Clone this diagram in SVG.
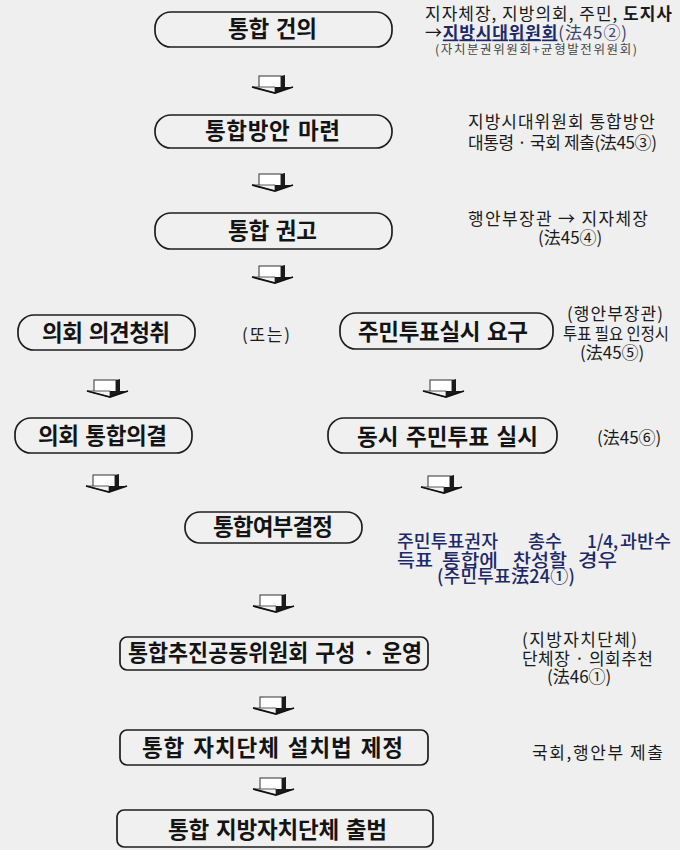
<svg xmlns="http://www.w3.org/2000/svg" xmlns:xlink="http://www.w3.org/1999/xlink" width="680" height="850" viewBox="0 0 680 850">
<style>
.box{fill:#f0f0f0;stroke:#1e1e1e;stroke-width:1.7}
.bt{font-family:"Noto Sans CJK KR","Noto Sans",sans-serif;font-weight:700;font-size:22.5px;fill:#141414;text-anchor:middle;word-spacing:2px}
.an{font-family:"Noto Sans CJK KR","Noto Sans",sans-serif;font-size:17px;fill:#1a1a1a}
.sm{font-family:"Noto Sans CJK KR","Noto Sans",sans-serif;font-size:12.5px;fill:#444}
.bl{font-family:"Noto Sans CJK KR","Noto Sans",sans-serif;font-size:18px;font-weight:500;fill:#1c2868}
.nv{fill:#1c2868}
</style>
<defs>
<g id="arr">
<rect x="-14" y="0" width="22" height="13" fill="#ffffff" stroke="#333" stroke-width="1"/>
<polygon points="8,0 12,-1 12,12 8,13" fill="#1a1a1a"/>
<polygon points="-21,11 2,11 2,17" fill="#f4f4f4" stroke="#333" stroke-width="0.8"/>
<polygon points="2,11 20,11 2,17" fill="#1a1a1a"/>
<polyline points="-21,11 2,17 20,11" fill="none" stroke="#111" stroke-width="1.8"/>
</g>
</defs>
<rect x="0" y="0" width="680" height="850" fill="#efefef"/>

<g id="connectors">
<use xlink:href="#arr" x="273" y="76"/>
<use xlink:href="#arr" x="273" y="174"/>
<use xlink:href="#arr" x="273" y="266"/>
<use xlink:href="#arr" x="108" y="380"/>
<use xlink:href="#arr" x="444" y="380"/>
<use xlink:href="#arr" x="107" y="475"/>
<use xlink:href="#arr" x="442" y="476"/>
<use xlink:href="#arr" x="274" y="595"/>
<use xlink:href="#arr" x="274" y="697"/>
<use xlink:href="#arr" x="274" y="778"/>
</g>

<g id="n1">
<rect class="box" x="155" y="12" width="237" height="35" rx="16"/>
<text class="bt" x="272.5" y="36.5" textLength="89" lengthAdjust="spacing">통합 건의</text>
</g>
<g id="n1-note">
<text class="an" x="425" y="19.5" font-size="16.5" textLength="247" lengthAdjust="spacing">지자체장, 지방의회, 주민, <tspan font-weight="700">도지사</tspan></text>
<text class="an" x="425" y="38.5" textLength="202" lengthAdjust="spacing">→<tspan class="nv" font-weight="700" text-decoration="underline">지방시대위원회</tspan><tspan fill="#3a4470">(法45②)</tspan></text>
<text class="sm" x="435" y="53.5" textLength="202" lengthAdjust="spacing">(자치분권위원회+균형발전위원회)</text>
</g>

<g id="n2">
<rect class="box" x="155" y="115" width="237" height="33" rx="16"/>
<text class="bt" x="272.5" y="139" textLength="135" lengthAdjust="spacing">통합방안 마련</text>
</g>
<g id="n2-note">
<text class="an" x="468" y="127.5" font-size="16.5" textLength="187" lengthAdjust="spacing">지방시대위원회 통합방안</text>
<text class="an" x="468" y="148.5" font-size="16.5" textLength="189" lengthAdjust="spacing">대통령 · 국회 제출(法45③)</text>
</g>

<g id="n3">
<rect class="box" x="155" y="213" width="237" height="36" rx="16"/>
<text class="bt" x="272.5" y="238.5" textLength="89" lengthAdjust="spacing">통합 권고</text>
</g>
<g id="n3-note">
<text class="an" x="468" y="224.5" font-size="16.5" textLength="180" lengthAdjust="spacing">행안부장관 → 지자체장</text>
<text class="an" x="538" y="243.5" font-size="16.5">(法45④)</text>
</g>

<g id="n4">
<rect class="box" x="18" y="315" width="177" height="35" rx="16"/>
<text class="bt" x="106" y="341" textLength="128" lengthAdjust="spacing">의회 의견청취</text>
</g>
<g id="or-label">
<text class="an" x="242" y="341" font-size="16" textLength="48" lengthAdjust="spacing">(또는)</text>
</g>

<g id="n5">
<rect class="box" x="340" y="313" width="213" height="36" rx="16"/>
<text class="bt" x="443" y="340" textLength="170" lengthAdjust="spacing">주민투표실시 요구</text>
</g>
<g id="n5-note">
<text class="an" x="567" y="319.5" textLength="96" lengthAdjust="spacing">(행안부장관)</text>
<text class="an" x="563" y="339.5" font-size="14.5" textLength="106" lengthAdjust="spacingAndGlyphs">투표 필요 인정시</text>
<text class="an" x="580" y="358.5">(法45⑤)</text>
</g>

<g id="n6">
<rect class="box" x="15" y="418" width="177" height="35" rx="16"/>
<text class="bt" x="102.5" y="444" textLength="129" lengthAdjust="spacing">의회 통합의결</text>
</g>

<g id="n7">
<rect class="box" x="328" y="418" width="229" height="35" rx="16"/>
<text class="bt" x="447.5" y="445" word-spacing="4" textLength="181" lengthAdjust="spacing">동시 주민투표 실시</text>
</g>
<g id="n7-note">
<text class="an" x="597" y="443.5">(法45⑥)</text>
</g>

<g id="n8">
<rect class="box" x="185" y="512" width="177" height="31" rx="15"/>
<text class="bt" x="273" y="535" font-size="22" textLength="120" lengthAdjust="spacing">통합여부결정</text>
</g>
<g id="n8-note">
<text class="bl" x="397" y="547.5" textLength="101" lengthAdjust="spacingAndGlyphs">주민투표권자</text>
<text class="bl" x="528" y="547.5" textLength="34" lengthAdjust="spacingAndGlyphs">총수</text>
<text class="bl" x="587" y="547.5" textLength="31" lengthAdjust="spacingAndGlyphs">1/4,</text>
<text class="bl" x="620" y="547.5" textLength="51" lengthAdjust="spacingAndGlyphs">과반수</text>
<text class="bl" x="397" y="567" font-size="18.5" textLength="36" lengthAdjust="spacingAndGlyphs">득표</text>
<text class="bl" x="442" y="567" font-size="18.5" textLength="56" lengthAdjust="spacingAndGlyphs">통합에</text>
<text class="bl" x="513" y="567" font-size="18.5" textLength="54" lengthAdjust="spacingAndGlyphs">찬성할</text>
<text class="bl" x="578" y="567" font-size="18.5" textLength="39" lengthAdjust="spacingAndGlyphs">경우</text>
<text class="bl" x="437" y="583" font-size="14" font-weight="400" textLength="138" lengthAdjust="spacing">(주민투표法24①)</text>
</g>

<g id="n9">
<rect class="box" x="120" y="637" width="308" height="33" rx="7"/>
<text class="bt" x="275" y="661" textLength="294" lengthAdjust="spacingAndGlyphs">통합추진공동위원회 구성 · 운영</text>
</g>
<g id="n9-note">
<text class="an" x="522" y="645.5" textLength="115" lengthAdjust="spacing">(지방자치단체)</text>
<text class="an" x="522" y="664.5" textLength="131" lengthAdjust="spacing">단체장 · 의회추천</text>
<text class="an" x="547" y="682.5">(法46①)</text>
</g>

<g id="n10">
<rect class="box" x="120" y="730" width="308" height="35" rx="7"/>
<text class="bt" x="272.5" y="756" word-spacing="8" textLength="261" lengthAdjust="spacing">통합 자치단체 설치법 제정</text>
</g>
<g id="n10-note">
<text class="an" x="532" y="758.5" textLength="131" lengthAdjust="spacing">국회,행안부 제출</text>
</g>

<g id="n11">
<rect class="box" x="117" y="810" width="316" height="37" rx="7"/>
<text class="bt" x="277.5" y="838" word-spacing="4" textLength="219" lengthAdjust="spacing">통합 지방자치단체 출범</text>
</g>
</svg>
